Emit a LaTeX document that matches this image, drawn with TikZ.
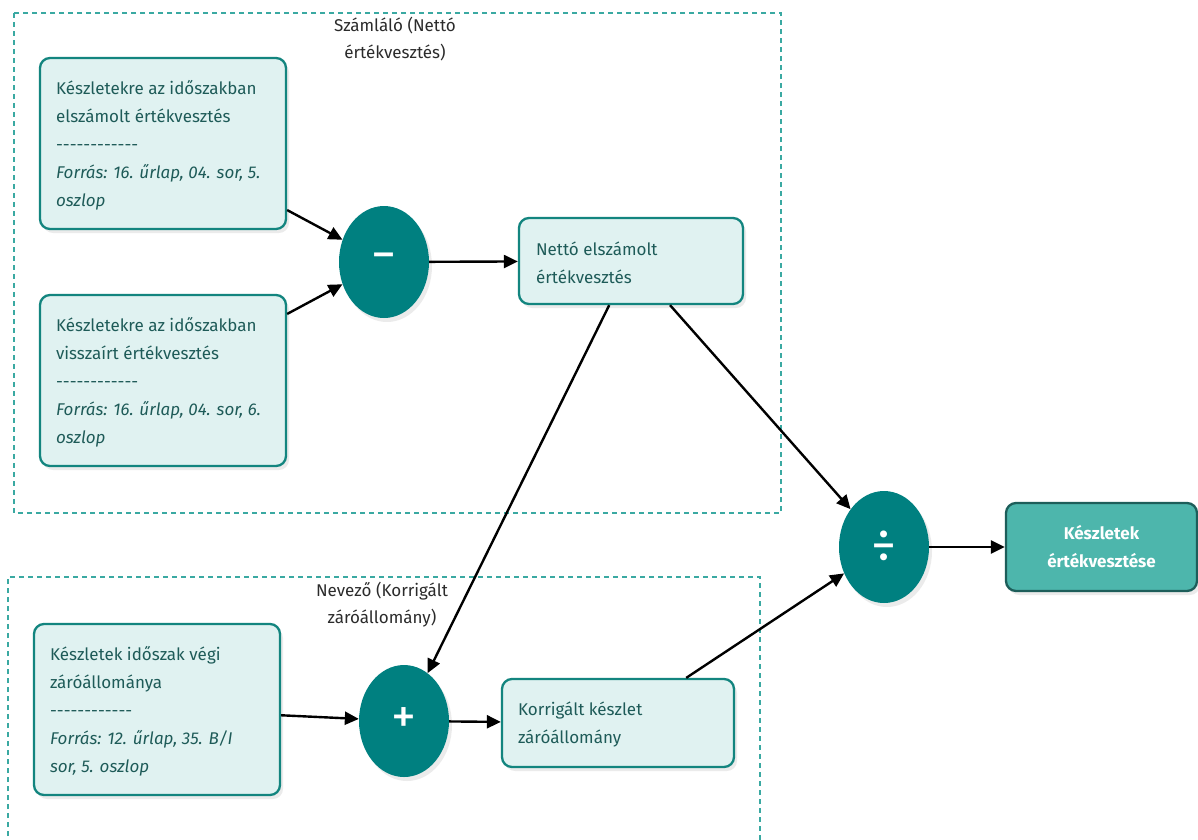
\documentclass[tikz,border=0pt]{standalone}
\usepackage{fontspec}
\setmainfont{Fira Sans}
\usetikzlibrary{shapes.geometric,arrows.meta,shadows}
\definecolor{boxfill}{HTML}{E0F2F1}
\definecolor{boxline}{HTML}{13857F}
\definecolor{boxtext}{HTML}{1E5B58}
\definecolor{opfill}{HTML}{008080}
\definecolor{resfill}{HTML}{4DB6AC}
\definecolor{resline}{HTML}{1D5E5A}
\definecolor{groupline}{HTML}{3AA9A2}
\definecolor{labeltext}{HTML}{2B2B2B}
% a row of single hyphens (kept apart so they do not merge into dashes)
\newcommand\sepline{-{}-{}-{}-{}-{}-{}-{}-{}-{}-{}-{}-}
\begin{document}
\begin{tikzpicture}[x=1pt,y=-1pt,
  shade/.style={drop shadow={shadow xshift=3pt,shadow yshift=-4pt,fill=black,opacity=0.08}},
  srcbox/.style={draw=boxline,line width=2.3pt,fill=boxfill,rounded corners=10pt,inner sep=0pt,shade},
  boxlabel/.style={anchor=west,align=left,text=boxtext,inner sep=0pt,font=\fontsize{17}{28}\selectfont},
  opnode/.style={ellipse,fill=opfill,minimum width=90pt,minimum height=112pt,inner sep=0pt,text=white,shade},
  opsym/.style={text=white,inner sep=0pt,font=\fontsize{50}{50}\selectfont},
  resbox/.style={draw=resline,line width=2.3pt,fill=resfill,rounded corners=10pt,inner sep=0pt,text=white,align=center,font=\bfseries\fontsize{17}{28}\selectfont,shade},
  group/.style={draw=groupline,line width=1.2pt,dash pattern=on 5pt off 4pt},
  grouplabel/.style={align=center,text=labeltext,inner sep=0pt,font=\fontsize{17}{27}\selectfont},
  arr/.style={draw=black,line width=2.4pt,-{Triangle[length=14pt,width=13pt]}}
]
\useasboundingbox (0,0) rectangle (1198,839);
\fill[white] (0,0) rectangle (1198,839);

% group frames
\draw[group] (14,13) rectangle (781,513);
\draw[group] (8,845) -- (8,577) -- (760,577) -- (760,845);
\node[grouplabel] (numlabel) at (395,39) {Számláló (Nettó\\értékvesztés)};
\node[grouplabel] (denlabel) at (382,605) {Nevező (Korrigált\\záróállomány)};

% source boxes
\node[srcbox,minimum width=246pt,minimum height=171pt] (a1) at (163,143.5) {};
\node[boxlabel] (a1t) at ([xshift=17pt,yshift=-2pt]a1.west) {Készletekre az időszakban\\elszámolt értékvesztés\\\sepline\\\textit{Forrás: 16. űrlap, 04. sor, 5.}\\\textit{oszlop}};

\node[srcbox,minimum width=246pt,minimum height=171pt] (a2) at (163,380.5) {};
\node[boxlabel] (a2t) at ([xshift=17pt,yshift=-2pt]a2.west) {Készletekre az időszakban\\visszaírt értékvesztés\\\sepline\\\textit{Forrás: 16. űrlap, 04. sor, 6.}\\\textit{oszlop}};

\node[srcbox,minimum width=246pt,minimum height=171pt] (b1) at (157,709.5) {};
\node[boxlabel] (b1t) at ([xshift=17pt,yshift=-2pt]b1.west) {Készletek időszak végi\\záróállománya\\\sepline\\\textit{Forrás: 12. űrlap, 35. B/I}\\\textit{sor, 5. oszlop}};

% intermediate boxes
\node[srcbox,minimum width=224pt,minimum height=86pt] (net) at (631,261) {};
\node[boxlabel] (nett) at ([xshift=18pt,yshift=-2pt]net.west) {Nettó elszámolt\\értékvesztés};

\node[srcbox,minimum width=232pt,minimum height=88pt] (korr) at (618,723) {};
\node[boxlabel] (korrt) at ([xshift=17pt,yshift=-1pt]korr.west) {Korrigált készlet\\záróállomány};

% operators
\node[opnode] (minus) at (384,262) {};
\node[opsym] (minussym) at (minus.center) {−};
\node[opnode] (plus) at (404,721) {};
\node[opsym] (plussym) at (plus.center) {+};
\node[opnode] (div) at (884,547) {};
\node[opsym] (divsym) at (div.center) {÷};

% result
\node[resbox,minimum width=191pt,minimum height=88pt] (res) at (1101.5,547) {Készletek\\értékvesztése};

% connectors
\draw[arr] (a1) -- (minus);
\draw[arr] (a2) -- (minus);
\draw[arr] (minus) -- (net);
\draw[arr] (net) -- (plus);
\draw[arr] (net) -- (div);
\draw[arr] (b1) -- (plus);
\draw[arr] (plus) -- (korr);
\draw[arr] (korr) -- (div);
\draw[arr] (div) -- (res);
\end{tikzpicture}
\end{document}
